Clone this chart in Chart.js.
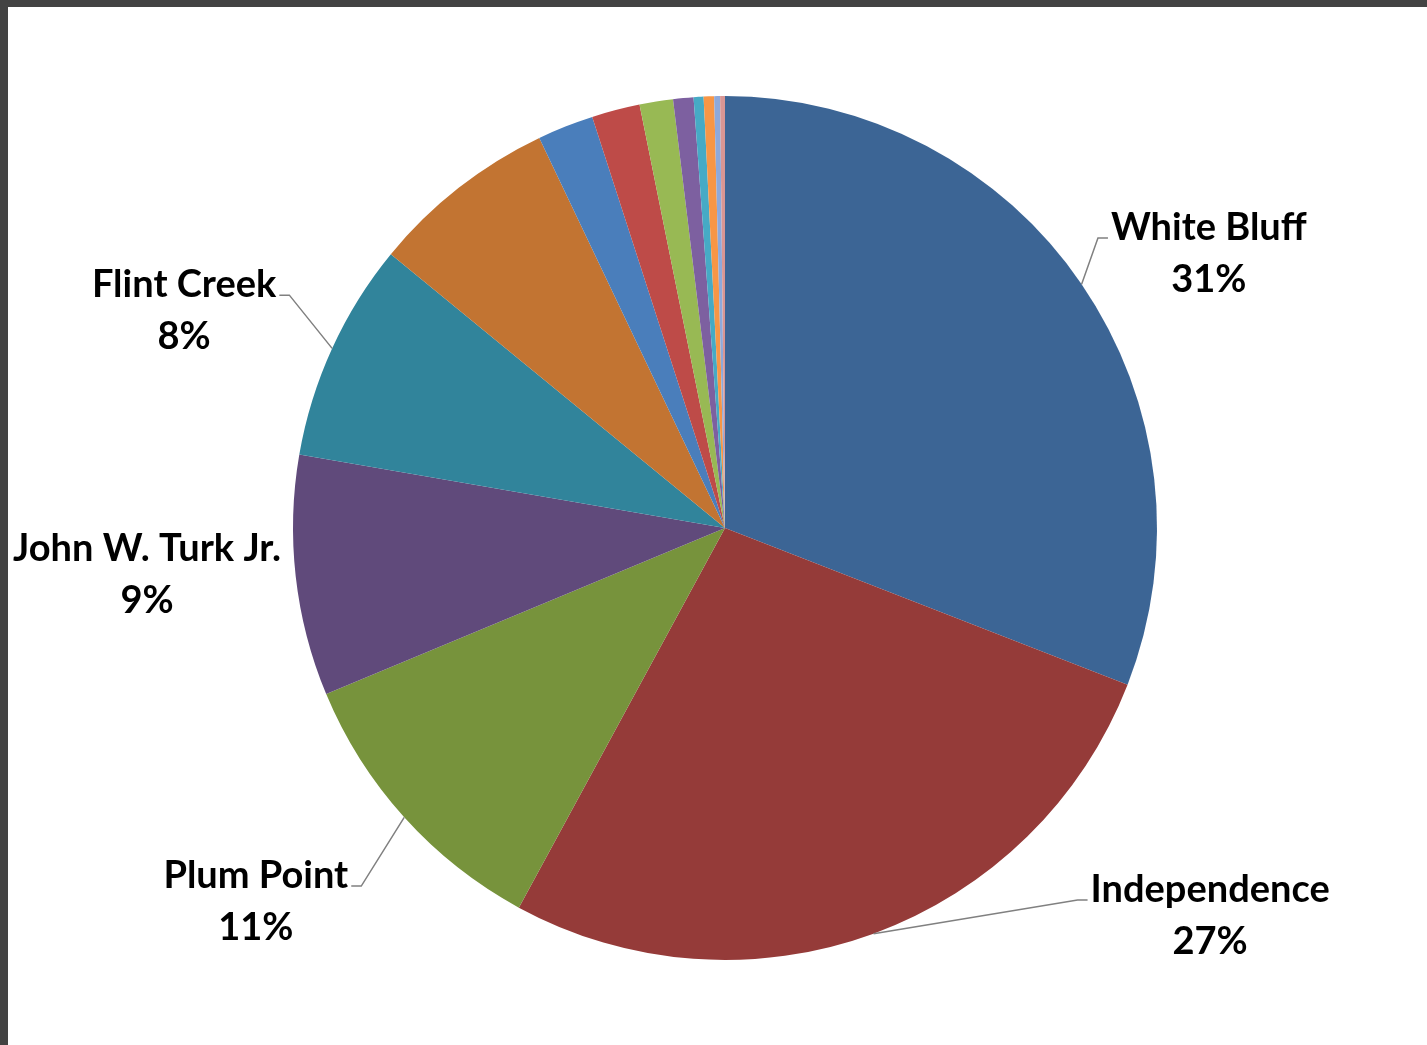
<!DOCTYPE html>
<html>
<head>
<meta charset="utf-8">
<script src="https://cdn.jsdelivr.net/npm/chart.js@4"></script>
<style>
  html, body { margin: 0; padding: 0; background: #434343; overflow: hidden; }
  #marco { position: absolute; left: 8px; top: 7px; width: 1419px; height: 1038px; background: #fff; }
</style>
</head>
<body>
<div id="marco"><canvas id="grafico1" width="1419" height="1038"></canvas></div>
<script>
// Datos: plantas y su participación (%)
var plantas = ['White Bluff', 'Independence', 'Plum Point', 'John W. Turk Jr.', 'Flint Creek',
               '', '', '', '', '', '', '', '', ''];
var valores = [30.9, 27.0, 10.8, 9.0, 8.2, 7.0, 2.1, 1.8, 1.25, 0.76, 0.37, 0.39, 0.22, 0.18];
var colores = ['#3C6595', '#953B39', '#77933C', '#604A7B', '#31849B', '#C27432',
               '#4A7EBB', '#BE4B48', '#98B954', '#7D60A0', '#46AAC5', '#F79646', '#8EA9DB', '#D99694'];

// Posición de cada etiqueta (en radios desde el centro); null = sin etiqueta
var posEtiquetas = [
    { dx: 1.120, dy: -0.634, guia: true },
    { dx: 1.123, dy: 0.898, guia: true },
    { dx: -1.086, dy: 0.866, guia: true },
    { dx: -1.338, dy: 0.109, guia: false },
    { dx: -1.252, dy: -0.502, guia: true }
];

var total = valores.reduce(function (a, b) { return a + b; }, 0);

// Plugin para las etiquetas con líneas guía
var etiquetas = {
    id: 'etiquetas',
    afterDatasetsDraw: function (chart) {
        var ctx = chart.ctx;
        var meta = chart.getDatasetMeta(0);
        ctx.save();
        ctx.font = 'bold 38px Lato';
        ctx.fillStyle = '#000';
        ctx.textAlign = 'center';
        ctx.textBaseline = 'middle';
        meta.data.forEach(function (arc, i) {
            var pos = posEtiquetas[i];
            if (!pos) return;
            var p = arc.getProps(['x', 'y', 'startAngle', 'endAngle', 'outerRadius'], true);
            var r = p.outerRadius;
            var tx = p.x + pos.dx * r, ty = p.y + pos.dy * r;
            var lh = 52;
            var linea1 = plantas[i];
            var linea2 = Math.round(valores[i] / total * 100) + '%';
            ctx.fillText(linea1, tx, ty - lh / 2);
            ctx.fillText(linea2, tx, ty + lh / 2);
            if (pos.guia) {
                var mid = (p.startAngle + p.endAngle) / 2;
                var ex = p.x + Math.cos(mid) * r, ey = p.y + Math.sin(mid) * r;
                var w = ctx.measureText(linea1).width;
                var lado = pos.dx > 0 ? 1 : -1;
                var finX = tx - lado * (w / 2 + 3);
                var codoX = finX - lado * 10;
                var lineaY = ty - lh / 2 + 10;
                ctx.beginPath();
                ctx.moveTo(ex, ey);
                ctx.lineTo(codoX, lineaY);
                ctx.lineTo(finX, lineaY);
                ctx.strokeStyle = '#808080';
                ctx.lineWidth = 1.5;
                ctx.stroke();
            }
        });
        ctx.restore();
    }
};

var ctx = document.getElementById('grafico1').getContext('2d');
var grafico1 = new Chart(ctx, {
    type: 'pie',
    data: {
        labels: plantas,
        datasets: [{
            data: valores,
            backgroundColor: colores,
            borderWidth: 0
        }]
    },
    options: {
        responsive: false,
        animation: false,
        layout: { padding: { left: 285, right: 270, top: 89, bottom: 85 } },
        plugins: {
            legend: { display: false },
            tooltip: { enabled: false }
        }
    },
    plugins: [etiquetas]
});
</script>
</body>
</html>
